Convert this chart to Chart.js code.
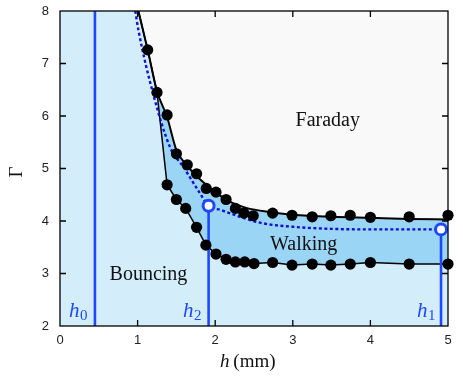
<!DOCTYPE html>
<html>
<head>
<meta charset="utf-8">
<script src="https://cdn.jsdelivr.net/npm/chart.js@4/dist/chart.umd.min.js"></script>
<style>
  html, body { margin: 0; padding: 0; background: #ffffff; }
  #grafico { display: block; }
</style>
</head>
<body>
<canvas id="grafico" width="463" height="383"></canvas>
<script>
// DATA ----------------------------------------
// Faraday threshold (upper dots)
var hUpper     = [1.13, 1.25, 1.38, 1.50, 1.64, 1.76, 1.885, 2.01, 2.14, 2.26, 2.37, 2.49, 2.74, 2.99, 3.25, 3.49, 3.74, 4.00, 4.50, 5.00];
var gammaUpper = [7.26, 6.45, 6.02, 5.28, 5.07, 4.90, 4.62, 4.55, 4.41, 4.24, 4.15, 4.10, 4.15, 4.11, 4.08, 4.10, 4.11, 4.07, 4.08, 4.11];

// walking threshold (lower dots)
var hLower     = [1.38, 1.50, 1.62, 1.76, 1.88, 2.01, 2.14, 2.26, 2.38, 2.50, 2.74, 2.99, 3.25, 3.49, 3.74, 4.00, 4.50, 5.00];
var gammaLower = [4.69, 4.41, 4.24, 3.88, 3.54, 3.37, 3.27, 3.22, 3.22, 3.19, 3.21, 3.16, 3.18, 3.16, 3.18, 3.21, 3.18, 3.18];

// smooth curve along the Faraday threshold
var hFit     = [1.01, 1.13, 1.25, 1.38, 1.50, 1.64, 1.80, 2.00, 2.20, 2.40, 2.70, 3.00, 3.50, 4.00, 4.50, 5.00];
var gammaFit = [8.00, 7.26, 6.47, 5.98, 5.35, 5.05, 4.80, 4.55, 4.36, 4.25, 4.17, 4.12, 4.08, 4.06, 4.04, 4.03];

// start of the thin lower line, before it reaches the lower dots
var hLowerStart     = [1.01, 1.13, 1.25];
var gammaLowerStart = [8.00, 7.26, 6.45];

// dotted blue curve
var hDotted     = [0.97, 1.01, 1.21, 1.42, 1.59, 1.79, 1.915, 2.07, 2.32, 2.60, 3.00, 3.50, 4.00, 4.50, 4.91];
var gammaDotted = [8.00, 7.64, 6.37, 5.40, 5.03, 4.56, 4.29, 4.21, 4.08, 3.96, 3.89, 3.85, 3.84, 3.84, 3.84];

// h0, h2, h1
var hMarks     = [0.45, 1.915, 4.91];
var gammaMarks = [8.00, 4.29, 3.84];
var markLabels = ["0", "2", "1"];

var xTicks = [0, 1, 2, 3, 4, 5];
var yTicks = [2, 3, 4, 5, 6, 7, 8];

// helpers -------------------------------------
function pares(xs, ys) {
  return xs.map(function (x, i) { return { x: x, y: ys[i] }; });
}

var azulClaro = "#d3eefa";
var azulMedio = "#9bd5f6";
var azulLinha = "#1d48ff";
var azulPonto = "#1010d0";

var linhaBaixo = pares(hLowerStart.concat(hLower), gammaLowerStart.concat(gammaLower));

var datasets = [
  // 0 black dots, upper
  { data: pares(hUpper, gammaUpper), showLine: false, pointRadius: 5.6, pointBackgroundColor: "#000", pointBorderWidth: 0, order: 0, clip: false },
  // 1 black dots, lower
  { data: pares(hLower, gammaLower), showLine: false, pointRadius: 5.6, pointBackgroundColor: "#000", pointBorderWidth: 0, order: 0, clip: false },
  // 2 open circles h2, h1
  { data: pares(hMarks.slice(1), gammaMarks.slice(1)), showLine: false, pointRadius: 5.5, pointBackgroundColor: "#fff", pointBorderColor: azulLinha, pointBorderWidth: 3, order: -1, clip: false },
  // 3-5 vertical lines
  { data: [{ x: hMarks[0], y: yTicks[0] }, { x: hMarks[0], y: gammaMarks[0] }], borderColor: azulLinha, borderWidth: 2.6, pointRadius: 0, order: 2 },
  { data: [{ x: hMarks[1], y: yTicks[0] }, { x: hMarks[1], y: gammaMarks[1] }], borderColor: azulLinha, borderWidth: 2.6, pointRadius: 0, order: 2 },
  { data: [{ x: hMarks[2], y: yTicks[0] }, { x: hMarks[2], y: gammaMarks[2] }], borderColor: azulLinha, borderWidth: 2.6, pointRadius: 0, order: 2 },
  // 6 dotted curve
  { data: pares(hDotted, gammaDotted), borderColor: azulPonto, borderWidth: 2.4, borderDash: [3, 2.5], pointRadius: 0, cubicInterpolationMode: "monotone", order: 3 },
  // 7 thin lower line
  { data: linhaBaixo, borderColor: "#000", borderWidth: 1.5, pointRadius: 0, tension: 0, order: 4 },
  // 8 upper curve, fills the walking zone down to the lower line
  { data: pares(hFit, gammaFit), borderColor: "#000", borderWidth: 2, pointRadius: 0, cubicInterpolationMode: "monotone",
    fill: { target: 7, above: azulMedio, below: azulMedio }, order: 5 },
  // 9 bouncing zone under the upper curve
  { data: pares(hFit, gammaFit), borderWidth: 0, borderColor: "rgba(0,0,0,0)", pointRadius: 0, cubicInterpolationMode: "monotone",
    fill: "start", backgroundColor: azulClaro, order: 8 },
  // 10 bouncing zone left of the curve (a hair past it, hides the seam)
  { data: [{ x: xTicks[0], y: yTicks[yTicks.length - 1] }, { x: hFit[0] + 0.015, y: gammaFit[0] }], borderWidth: 0, borderColor: "rgba(0,0,0,0)",
    pointRadius: 0, fill: "start", backgroundColor: azulClaro, order: 9 }
];

// background + frame, ticks and labels -------
var fundo = {
  id: "fundo",
  beforeDatasetsDraw: function (chart) {
    var a = chart.chartArea, ctx = chart.ctx;
    ctx.save();
    ctx.fillStyle = "#f9f9f9";
    ctx.fillRect(a.left, a.top, a.right - a.left, a.bottom - a.top);
    ctx.restore();
  }
};

function escreveH(ctx, x, y, sub) {
  ctx.font = "italic 21px 'Liberation Serif', serif";
  ctx.textAlign = "left";
  ctx.textBaseline = "alphabetic";
  ctx.fillText("h", x, y);
  var w = ctx.measureText("h").width;
  ctx.font = "15px 'Liberation Serif', serif";
  ctx.fillText(sub, x + w + 0.5, y + 3);
}

var moldura = {
  id: "moldura",
  afterDraw: function (chart) {
    var a = chart.chartArea, ctx = chart.ctx;
    var sx = chart.scales.x, sy = chart.scales.y;
    ctx.save();
    ctx.strokeStyle = "#000";
    ctx.lineWidth = 1.3;
    ctx.strokeRect(a.left, a.top, a.right - a.left, a.bottom - a.top);
    ctx.beginPath();
    xTicks.slice(1, -1).forEach(function (v) {
      var px = sx.getPixelForValue(v);
      ctx.moveTo(px, a.bottom); ctx.lineTo(px, a.bottom - 6);
      ctx.moveTo(px, a.top); ctx.lineTo(px, a.top + 6);
    });
    yTicks.slice(1, -1).forEach(function (v) {
      var py = sy.getPixelForValue(v);
      ctx.moveTo(a.left, py); ctx.lineTo(a.left + 6, py);
      ctx.moveTo(a.right, py); ctx.lineTo(a.right - 6, py);
    });
    ctx.stroke();

    // region names
    ctx.fillStyle = "#111";
    ctx.font = "20px 'Liberation Serif', serif";
    ctx.textAlign = "center";
    ctx.textBaseline = "alphabetic";
    ctx.fillText("Faraday", sx.getPixelForValue(3.45), sy.getPixelForValue(5.81));
    ctx.fillText("Walking", sx.getPixelForValue(3.14), sy.getPixelForValue(3.45));
    ctx.fillText("Bouncing", sx.getPixelForValue(1.14), sy.getPixelForValue(2.88));

    // h0 h2 h1
    ctx.fillStyle = azulLinha;
    escreveH(ctx, 69, 317, markLabels[0]);
    escreveH(ctx, 183, 317, markLabels[1]);
    escreveH(ctx, 417, 317, markLabels[2]);

    // axis titles
    ctx.fillStyle = "#111";
    ctx.textAlign = "left";
    ctx.font = "italic 19px 'Liberation Serif', serif";
    ctx.fillText("h", 220, 367);
    var wh = ctx.measureText("h").width;
    ctx.font = "19px 'Liberation Serif', serif";
    ctx.fillText("\u2009(mm)", 220 + wh, 367);

    ctx.translate(22, 172);
    ctx.rotate(-Math.PI / 2);
    ctx.textAlign = "center";
    ctx.font = "19px 'Liberation Serif', serif";
    ctx.fillText("\u0393", 0, 0);
    ctx.restore();
  }
};

// CHART ---------------------------------------
Chart.defaults.font.family = "'Liberation Sans', Arial, sans-serif";
Chart.defaults.font.size = 13;
Chart.defaults.color = "#222";

new Chart(document.getElementById("grafico"), {
  type: "line",
  data: { datasets: datasets },
  options: {
    responsive: false,
    animation: false,
    devicePixelRatio: 1,
    layout: { autoPadding: false, padding: { left: 0, top: 11, right: 15, bottom: 0 } },
    plugins: { legend: { display: false }, tooltip: { enabled: false } },
    scales: {
      x: {
        type: "linear", min: xTicks[0], max: xTicks[xTicks.length - 1],
        grid: { display: false, tickLength: 0 }, border: { display: false },
        ticks: { stepSize: 1, padding: 7 },
        afterFit: function (s) { s.height = 57; s.paddingLeft = 0; s.paddingRight = 0; }
      },
      y: {
        type: "linear", min: yTicks[0], max: yTicks[yTicks.length - 1],
        grid: { display: false, tickLength: 0 }, border: { display: false },
        ticks: { stepSize: 1, padding: 11 },
        afterFit: function (s) { s.width = 60; s.paddingTop = 0; s.paddingBottom = 0; }
      }
    }
  },
  plugins: [fundo, moldura]
});
</script>
</body>
</html>
